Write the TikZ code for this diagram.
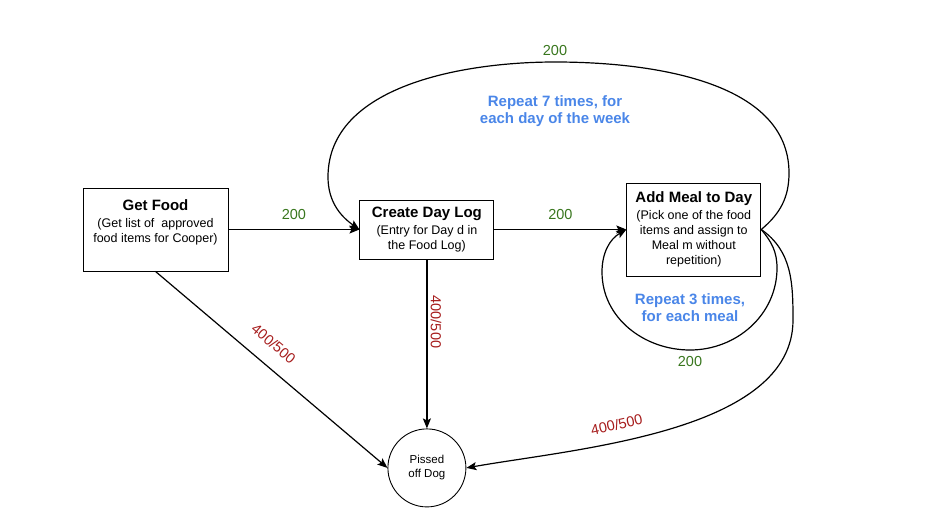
\documentclass[tikz,border=0pt]{standalone}
\usepackage{fontspec}
\setmainfont{Liberation Sans}
\usepackage{xcolor}
\usetikzlibrary{arrows.meta,positioning}
\definecolor{loopblue}{HTML}{4A86E8}
\definecolor{okgreen}{HTML}{38761D}
\definecolor{failred}{HTML}{A61C1C}

\begin{document}
\begin{tikzpicture}[x=1pt, y=1pt,
  node distance=131pt,
  state/.style={draw, line width=0.9pt, align=center, minimum width=134pt,
                font=\fontsize{12.5}{15}\selectfont, inner sep=2pt},
  endstate/.style={draw, circle, line width=0.9pt, minimum size=78pt, align=center,
                font=\fontsize{11.5}{14}\selectfont, inner sep=1pt},
  arrow/.style={-{Stealth[length=10pt, width=8pt, inset=2pt]}, line width=1.2pt},
  ok/.style={text=okgreen, font=\fontsize{14.5}{17}\selectfont},
  fail/.style={text=failred, font=\fontsize{14.5}{17}\selectfont},
  loopnote/.style={text=loopblue, align=center, font=\fontsize{15}{17}\selectfont\bfseries}
]
\useasboundingbox (0,0) rectangle (936,-527);
\node[state, minimum width=145pt, minimum height=83pt, text depth=16pt] (food) at (155.5,-229.5)
  {{\fontsize{15}{17}\selectfont\bfseries Get Food}\\[2pt](Get list of\ \ approved\\food items for Cooper)};
\node[state, minimum height=59pt, right=131pt of food] (daylog)
  {{\fontsize{15}{17}\selectfont\bfseries Create Day Log}\\[2pt](Entry for Day d in\\the Food Log)};
\node[state, minimum height=93pt, right=132pt of daylog] (meal)
  {{\fontsize{15}{17}\selectfont\bfseries Add Meal to Day}\\[2pt](Pick one of the food\\items and assign to\\Meal m without\\repetition)};
\node[endstate, below=169pt of daylog] (dog) {Pissed\\off Dog};
% loop helpers
\coordinate (weekR) at (789,-173);
\coordinate (weekT) at (555,-62);
\coordinate (weekL) at (328,-177);
\coordinate (mealR) at (777,-268);
\coordinate (mealB) at (690,-350);
\coordinate (mealL) at (602,-272);
\coordinate (dogR) at (793,-320);
\draw[arrow] (food) -- node[ok, above=6pt] {200} (daylog);
\draw[arrow] (daylog) -- node[ok, above=6pt] {200} (meal);
\draw[arrow] (meal.east) to[out=40,in=-90] (weekR) to[out=90,in=0,looseness=0.92] (weekT) node[ok, above=2pt] {200}
  to[out=180,in=90,looseness=0.92] (weekL) to[out=-90,in=145] (daylog.west);
\node[loopnote, below=30pt of weekT] (weeknote) {Repeat 7 times, for\\each day of the week};
\draw[arrow] (meal.east) to[out=-50,in=90] (mealR) to[out=-90,in=0] (mealB) node[ok, below=2pt] {200}
  to[out=180,in=-90] (mealL) to[out=90,in=-150] (meal.west);
\node[loopnote, above=25pt of mealB] (mealnote) {Repeat 3 times,\\for each meal};
\draw[arrow] (food.south) -- node[fail, sloped, above=12pt, pos=0.45] {400/500} (dog.west);
\draw[arrow] (daylog.south) -- node[fail, sloped, above, pos=0.37] {400/500} (dog.north);
\draw[arrow] (meal.east) to[out=-35,in=90] (dogR)
  to[out=-90,in=10,looseness=0.8] node[fail, sloped, above=8pt, pos=0.62] {400/500} (dog.east);
\end{tikzpicture}
\end{document}
